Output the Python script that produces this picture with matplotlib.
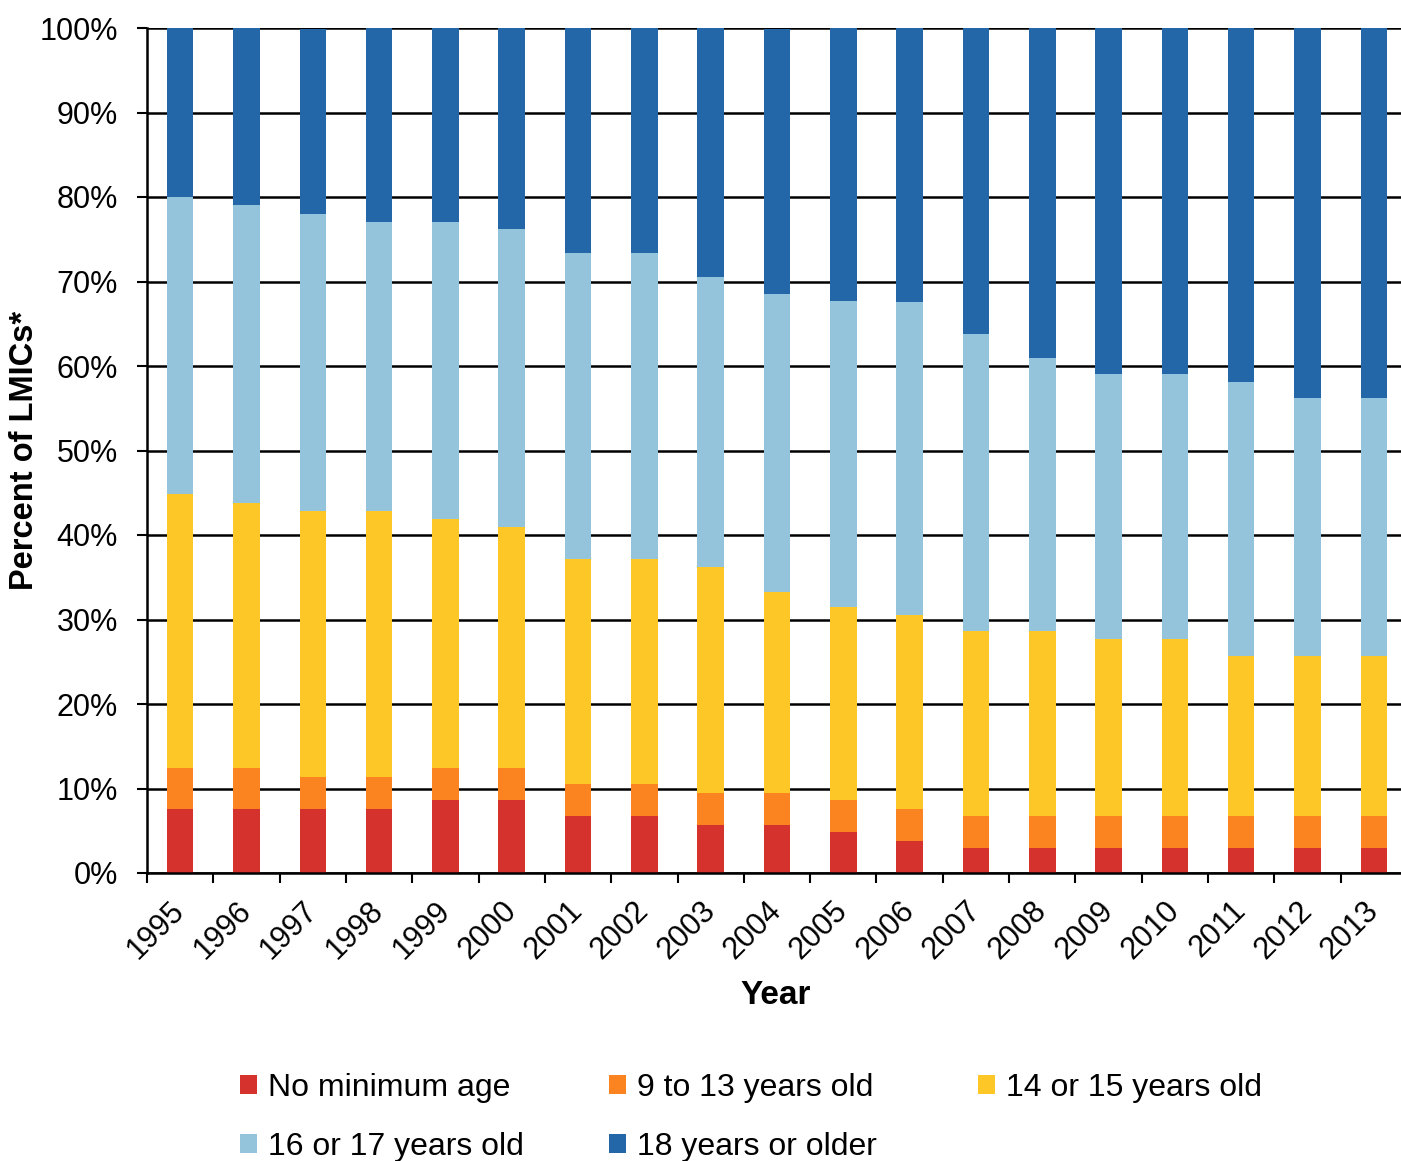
import matplotlib
matplotlib.use("Agg")
import matplotlib.pyplot as plt
import numpy as np

plt.rcParams['font.family'] = ['Liberation Sans', 'DejaVu Sans']

anos = ["1995", "1996", "1997", "1998", "1999", "2000", "2001", "2002", "2003", "2004",
        "2005", "2006", "2007", "2008", "2009", "2010", "2011", "2012", "2013"]

# porcentagens de cada faixa
sem_idade = [7.6, 7.6, 7.6, 7.6, 8.6, 8.6, 6.7, 6.7, 5.7, 5.7, 4.8, 3.8, 2.9, 2.9, 2.9, 2.9, 2.9, 2.9, 2.9]
de9a13 = [4.8, 4.8, 3.8, 3.8, 3.8, 3.8, 3.8, 3.8, 3.8, 3.8, 3.8, 3.8, 3.8, 3.8, 3.8, 3.8, 3.8, 3.8, 3.8]
de14a15 = [32.4, 31.4, 31.4, 31.4, 29.5, 28.6, 26.7, 26.7, 26.7, 23.8, 22.9, 22.9, 21.9, 21.9, 21.0, 21.0, 19.0, 19.0, 19.0]
de16a17 = [35.2, 35.2, 35.2, 34.3, 35.2, 35.2, 36.2, 36.2, 34.3, 35.2, 36.2, 37.1, 35.2, 32.4, 31.4, 31.4, 32.4, 30.5, 30.5]
mais18 = [20.0, 21.0, 21.9, 22.9, 22.9, 23.8, 26.7, 26.7, 29.5, 31.4, 32.4, 32.4, 36.2, 39.0, 41.0, 41.0, 41.9, 43.8, 43.8]

series = [sem_idade, de9a13, de14a15, de16a17, mais18]
nomes = ["No minimum age", "9 to 13 years old", "14 or 15 years old",
         "16 or 17 years old", "18 years or older"]
cores = ["#D5312D", "#FB8320", "#FDC827", "#93C4DC", "#2367A8"]

fig = plt.figure(figsize=(14.01, 11.61), dpi=100)
ax = fig.add_axes([147/1401, 1-873/1161, 1260/1401, 845/1161])

x = np.arange(len(anos))
base = np.zeros(len(anos))
barras = []
for valores, nome, cor in zip(series, nomes, cores):
    b = ax.bar(x, valores, 0.4, bottom=base, color=cor, label=nome, zorder=3)
    barras.append(b)
    base = base + np.array(valores)

ax.set_xlim(-0.5, len(anos) - 0.5)
ax.set_ylim(0, 100)
ax.set_yticks(np.arange(0, 101, 10))
ax.set_yticklabels([f"{v}%" for v in range(0, 101, 10)], fontsize=22)
ax.yaxis.grid(True, color="black", linewidth=1.8, zorder=0)
ax.set_axisbelow(True)

ax.set_xticks(x)
ax.set_xticklabels(anos, fontsize=22, rotation=45, ha="right", va="center", rotation_mode="anchor")
ax.set_xticks(np.append(x - 0.5, len(anos) - 0.5), minor=True)
ax.tick_params(axis="x", which="major", length=0, pad=24)
ax.tick_params(axis="x", which="minor", length=7, width=1.5, direction="out")
ax.tick_params(axis="y", length=7, width=1.5, direction="out", pad=14)

for lado in ["top", "right"]:
    ax.spines[lado].set_visible(False)
for lado in ["left", "bottom"]:
    ax.spines[lado].set_linewidth(1.8)
    ax.spines[lado].set_zorder(4)

fig.text(25/1401, 1-450/1161, "Percent of LMICs*", rotation=90, ha="center", va="center",
         fontsize=23.5, fontweight="bold")
fig.text(776/1401, 1-995/1161, "Year", ha="center", va="center", fontsize=24, fontweight="bold")

# legenda em 3 colunas de largura igual (uma legenda por coluna)
colunas = [[0, 3], [1, 4], [2]]
x_col = [240, 609, 978]
for idx, xc in zip(colunas, x_col):
    fig.legend([barras[i] for i in idx], [nomes[i] for i in idx], loc="upper left",
               bbox_to_anchor=(xc/1401, 1-1073/1161), frameon=False, fontsize=23,
               handlelength=0.52, handleheight=0.52, handletextpad=0.35,
               labelspacing=0.9, borderpad=0, borderaxespad=0)

fig.savefig("out.png", dpi=100)
